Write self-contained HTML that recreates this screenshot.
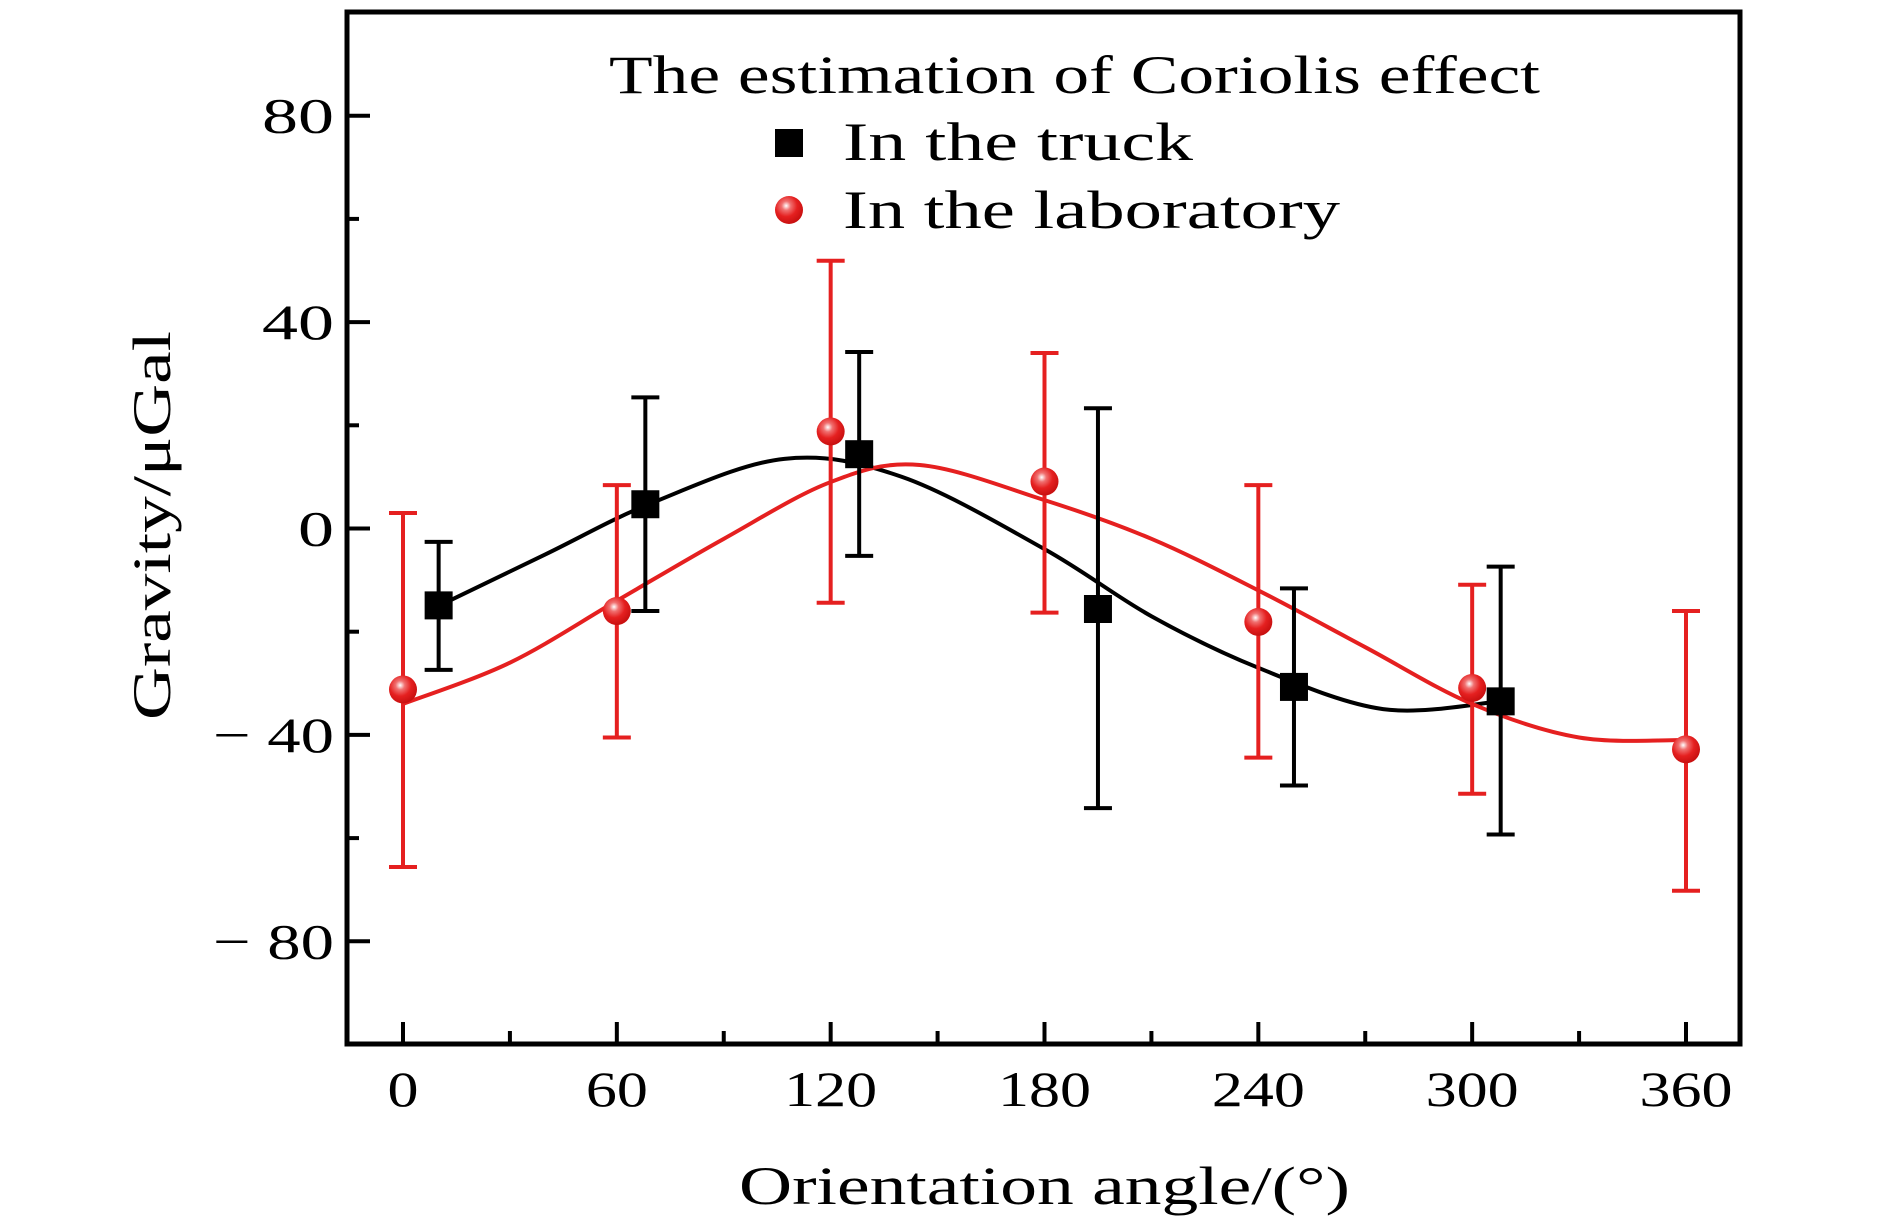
<!DOCTYPE html>
<html><head><meta charset="utf-8"><style>
html,body{margin:0;padding:0;background:#fff}
svg{display:block}
text{font-family:"Liberation Serif",serif;fill:#000}
</style></head><body>
<svg id="chart" width="1890" height="1229" viewBox="0 0 1890 1229" xmlns="http://www.w3.org/2000/svg">
</svg>
<script>
const xTicks=[0,60,120,180,240,300,360];
const xMinor=[30,90,150,210,270,330];
const yTicks=[80,40,0,-40,-80];
const yMinor=[60,20,-20,-60];
const truckX=[10,68,128,195,250,308];
const truckY=[-14.9,4.7,14.4,-15.6,-30.7,-33.5];
const truckHi=[-2.6,25.4,34.2,23.3,-11.6,-7.4];
const truckLo=[-27.4,-16,-5.3,-54.2,-49.8,-59.3];
const labX=[0,60,120,180,240,300,360];
const labY=[-31.2,-16,18.8,9.1,-18.1,-30.9,-42.8];
const labHi=[3,8.4,51.9,34,8.4,-10.9,-16];
const labLo=[-65.6,-40.5,-14.4,-16.3,-44.4,-51.4,-70.2];
const truckFitX=[10,40,70,107,140,180,210,240,275,308];
const truckFitY=[-15,-5,5,13.5,10,-4,-17,-27,-35,-33.5];
const labFitX=[0,30,60,90,120,145,180,210,240,270,300,330,360];
const labFitY=[-34,-26,-14,-2,9,12.3,5.5,-2,-12,-23,-34,-40.5,-41];

const L=347,R=1740,T=12,B=1044;
const sx=v=>403+v*(1686-403)/360;
const sy=v=>528.5-v*5.16;
const NS="http://www.w3.org/2000/svg";
const svg=document.getElementById('chart');
function mk(tag,attrs,parent){const e=document.createElementNS(NS,tag);for(const k in attrs)e.setAttribute(k,attrs[k]);(parent||svg).appendChild(e);return e;}

const defs=mk('defs',{});
const rg=mk('radialGradient',{id:'ball',cx:'0.4',cy:'0.35',r:'0.65'},defs);
mk('stop',{offset:'0','stop-color':'#ffffff'},rg);
mk('stop',{offset:'0.25','stop-color':'#f07070'},rg);
mk('stop',{offset:'0.6','stop-color':'#e52020'},rg);
mk('stop',{offset:'1','stop-color':'#c81010'},rg);

function smooth(xs,ys){
  const p=xs.map((x,i)=>[sx(x),sy(ys[i])]);
  let d='M'+p[0][0]+','+p[0][1];
  for(let i=0;i<p.length-1;i++){
    const p0=p[i-1]||p[i],p1=p[i],p2=p[i+1],p3=p[i+2]||p2;
    const c1=[p1[0]+(p2[0]-p0[0])/6,p1[1]+(p2[1]-p0[1])/6];
    const c2=[p2[0]-(p3[0]-p1[0])/6,p2[1]-(p3[1]-p1[1])/6];
    d+=` C${c1[0]},${c1[1]} ${c2[0]},${c2[1]} ${p2[0]},${p2[1]}`;
  }
  return d;
}
xTicks.forEach(v=>{
  const t=mk('line',{x1:sx(v),x2:sx(v),y1:B,y2:B-22,stroke:'#000','stroke-width':4});
  
  
  const s=String(v);
  const tx=mk('text',{x:sx(v),y:1106,'text-anchor':'middle','font-size':50,textLength:s.length*31,lengthAdjust:'spacingAndGlyphs'});
  tx.textContent=s;
  
  
});
xMinor.forEach(v=>{
  const t=mk('line',{x1:sx(v),x2:sx(v),y1:B,y2:B-13,stroke:'#000','stroke-width':4});
  
  
});
yTicks.forEach(v=>{
  const t=mk('line',{x1:L,x2:L+23,y1:sy(v),y2:sy(v),stroke:'#000','stroke-width':4});
  
  
  const s=v<0?'\u2212 '+(-v):String(v);
  const w=v<0?121:String(v).length*36;
  const tx=mk('text',{x:334,y:sy(v)+17,'text-anchor':'end','font-size':50,textLength:w,lengthAdjust:'spacingAndGlyphs'});
  tx.textContent=s;
  
  
});
yMinor.forEach(v=>{
  const t=mk('line',{x1:L,x2:L+12,y1:sy(v),y2:sy(v),stroke:'#000','stroke-width':4});
  
  
});
const fb=mk('path',{d:smooth(truckFitX,truckFitY),fill:'none',stroke:'#000','stroke-width':4});


const fr=mk('path',{d:smooth(labFitX,labFitY),fill:'none',stroke:'#e52020','stroke-width':4});


function errbar(x,hi,lo,col,name){
  const g=mk('g',{stroke:col,'stroke-width':4});
  
  
  mk('line',{x1:sx(x),x2:sx(x),y1:sy(hi),y2:sy(lo)},g);
  mk('line',{x1:sx(x)-14,x2:sx(x)+14,y1:sy(hi),y2:sy(hi)},g);
  mk('line',{x1:sx(x)-14,x2:sx(x)+14,y1:sy(lo),y2:sy(lo)},g);
}
labX.forEach((x,i)=>errbar(x,labHi[i],labLo[i],'#e52020','lab-error-bar'));
truckX.forEach((x,i)=>errbar(x,truckHi[i],truckLo[i],'#000','truck-error-bar'));
labX.forEach((x,i)=>{
  const c=mk('circle',{cx:sx(x),cy:sy(labY[i]),r:14,fill:'url(#ball)'});
  
  
});
truckX.forEach((x,i)=>{
  const r=mk('rect',{x:sx(x)-14,y:sy(truckY[i])-14,width:28,height:28,fill:'#000'});
  
  
});
const fr2=mk('rect',{x:L,y:T,width:R-L,height:B-T,fill:'none',stroke:'#000','stroke-width':5});


const lt=mk('text',{x:609,y:93,'font-size':54,textLength:931,lengthAdjust:'spacingAndGlyphs'});
lt.textContent='The estimation of Coriolis effect';


const ls=mk('rect',{x:775,y:129,width:28,height:28,fill:'#000'});


const l1=mk('text',{x:843,y:160,'font-size':54,textLength:350,lengthAdjust:'spacingAndGlyphs'});
l1.textContent='In the truck';


const lc=mk('circle',{cx:789,cy:210,r:14,fill:'url(#ball)'});


const l2=mk('text',{x:843,y:228,'font-size':54,textLength:497,lengthAdjust:'spacingAndGlyphs'});
l2.textContent='In the laboratory';


const xt=mk('text',{x:739,y:1204,'font-size':54,textLength:611,lengthAdjust:'spacingAndGlyphs'});
xt.textContent='Orientation angle/(°)';


const yt=mk('text',{x:-720,y:0,'font-size':54,textLength:389,lengthAdjust:'spacingAndGlyphs',transform:'translate(170,0) rotate(-90)'});
yt.textContent='Gravity/μGal';


</script>
</body></html>
